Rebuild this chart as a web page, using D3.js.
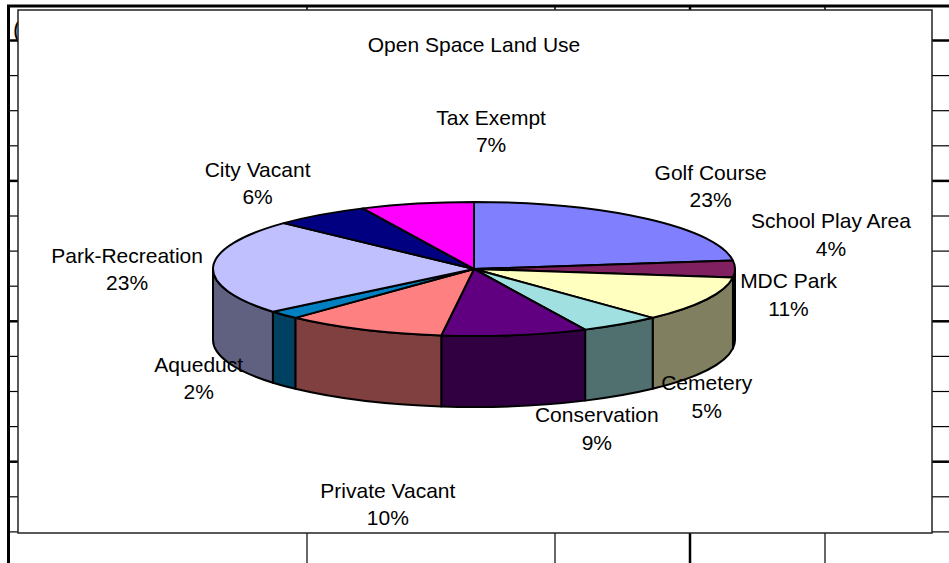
<!DOCTYPE html>
<html>
<head>
<meta charset="utf-8">
<script src="https://cdn.jsdelivr.net/npm/d3@7"></script>
<style>
  html, body { margin: 0; padding: 0; background: #fff; }
  svg { display: block; }
  text { font-family: "Liberation Sans", Arial, sans-serif; fill: #000; }
</style>
</head>
<body>
<svg id="chart" width="949" height="563"></svg>
<script>
// ---- data ----
const title = "Open Space Land Use";
const categories = ["Golf Course", "School Play Area", "MDC Park", "Cemetery", "Conservation",
                    "Private Vacant", "Aqueduct", "Park-Recreation", "City Vacant", "Tax Exempt"];
const values = [23, 4, 11, 5, 9, 10, 2, 23, 6, 7];
const percentLabels = ["23%", "4%", "11%", "5%", "9%", "10%", "2%", "23%", "6%", "7%"];
const colors = ["#8080FF", "#802060", "#FFFFC0", "#A0E0E0", "#600080",
                "#FF8080", "#0080C0", "#C0C0FF", "#000080", "#FF00FF"];

// ---- layout (label nudges from slice mid-point on rim) ----
const labelNudge = [[64, -39], [96, -41], [82, -11], [86, 66], [82, 87],
                    [25, 168], [-85, 57], [-86, -4], [-63, -38], [74, -79]];

const W = 949, H = 563;
const svg = d3.select("#chart");

// spreadsheet background
const chartBox = {x0: 18, y0: 10, x1: 932, y1: 533};
const rowY = d3.range(0, 15).map(k => 40.5 + 35.1 * k);
const colX = [307, 555, 690, 825];
const bg = svg.append("g");
bg.append("rect").attr("x", 0).attr("y", 0).attr("width", W).attr("height", H).attr("fill", "#fff");
rowY.forEach((y, k) => {
  const thick = k % 4 === 0;
  bg.append("line").attr("x1", 9).attr("x2", chartBox.x0).attr("y1", y).attr("y2", y)
    .attr("stroke", "#000").attr("stroke-width", thick ? 2.5 : 1.2);
  bg.append("line").attr("x1", chartBox.x1).attr("x2", W).attr("y1", y).attr("y2", y)
    .attr("stroke", "#000").attr("stroke-width", thick ? 2.5 : 1.2);
});
colX.forEach(x => {
  const thick = x === 690;
  bg.append("line").attr("x1", x).attr("x2", x).attr("y1", chartBox.y1).attr("y2", H)
    .attr("stroke", "#000").attr("stroke-width", thick ? 2.5 : 1.2);
  bg.append("line").attr("x1", x).attr("x2", x).attr("y1", 5).attr("y2", 12)
    .attr("stroke", "#000").attr("stroke-width", thick ? 2.5 : 1.5);
});
bg.append("line").attr("x1", 7).attr("x2", W).attr("y1", 6).attr("y2", 6).attr("stroke", "#000").attr("stroke-width", 3);
bg.append("line").attr("x1", 8.5).attr("x2", 8.5).attr("y1", 5).attr("y2", H).attr("stroke", "#000").attr("stroke-width", 3);
bg.append("text").attr("x", 13).attr("y", 38).attr("font-size", 23).text("(");

// chart area
svg.append("rect").attr("x", chartBox.x0).attr("y", chartBox.y0)
  .attr("width", chartBox.x1 - chartBox.x0).attr("height", chartBox.y1 - chartBox.y0)
  .attr("fill", "#fff").attr("stroke", "#222").attr("stroke-width", 1.5);

svg.append("text").attr("x", 474).attr("y", 52).attr("text-anchor", "middle")
  .attr("font-size", 21).text(title);

// ---- 3D pie ----
const cx = 474, cy = 269, rx = 261, ry = 67, depth = 71;
const pie = d3.pie().sort(null).value(d => d).startAngle(0).endAngle(2 * Math.PI);
const arcs = pie(values);
const pt = (a, dy = 0) => [cx + rx * Math.sin(a), cy - ry * Math.cos(a) + dy];

const g = svg.append("g").attr("stroke", "#000").attr("stroke-width", 2).attr("stroke-linejoin", "round");

// side walls (front half only: angles PI/2 .. 3PI/2)
arcs.forEach((d, i) => {
  const s0 = Math.max(d.startAngle, Math.PI / 2);
  const s1 = Math.min(d.endAngle, 3 * Math.PI / 2);
  if (s1 <= s0) return;
  const p0 = pt(s0), p1 = pt(s1), q1 = pt(s1, depth), q0 = pt(s0, depth);
  const large = (s1 - s0) > Math.PI ? 1 : 0;
  const c = d3.rgb(colors[i]);
  const side = d3.rgb(c.r * 0.5, c.g * 0.5, c.b * 0.5);
  const path = `M${p0}A${rx},${ry} 0 ${large} 1 ${p1}L${q1}A${rx},${ry} 0 ${large} 0 ${q0}Z`;
  g.append("path").attr("d", path).attr("fill", side.formatHex());
});

// top faces
arcs.forEach((d, i) => {
  const p0 = pt(d.startAngle), p1 = pt(d.endAngle);
  const large = (d.endAngle - d.startAngle) > Math.PI ? 1 : 0;
  const path = `M${cx},${cy}L${p0}A${rx},${ry} 0 ${large} 1 ${p1}Z`;
  g.append("path").attr("d", path).attr("fill", colors[i]);
});

// labels
const lab = svg.append("g").attr("font-size", 21).attr("text-anchor", "middle");
arcs.forEach((d, i) => {
  const m = (d.startAngle + d.endAngle) / 2;
  const [mx, my] = pt(m);
  const x = mx + labelNudge[i][0], y = my + labelNudge[i][1];
  const t = lab.append("text").attr("x", x).attr("y", y);
  t.append("tspan").attr("x", x).attr("dy", 0).text(categories[i]);
  t.append("tspan").attr("x", x).attr("dy", 27.5).text(percentLabels[i]);
});
</script>
</body>
</html>
